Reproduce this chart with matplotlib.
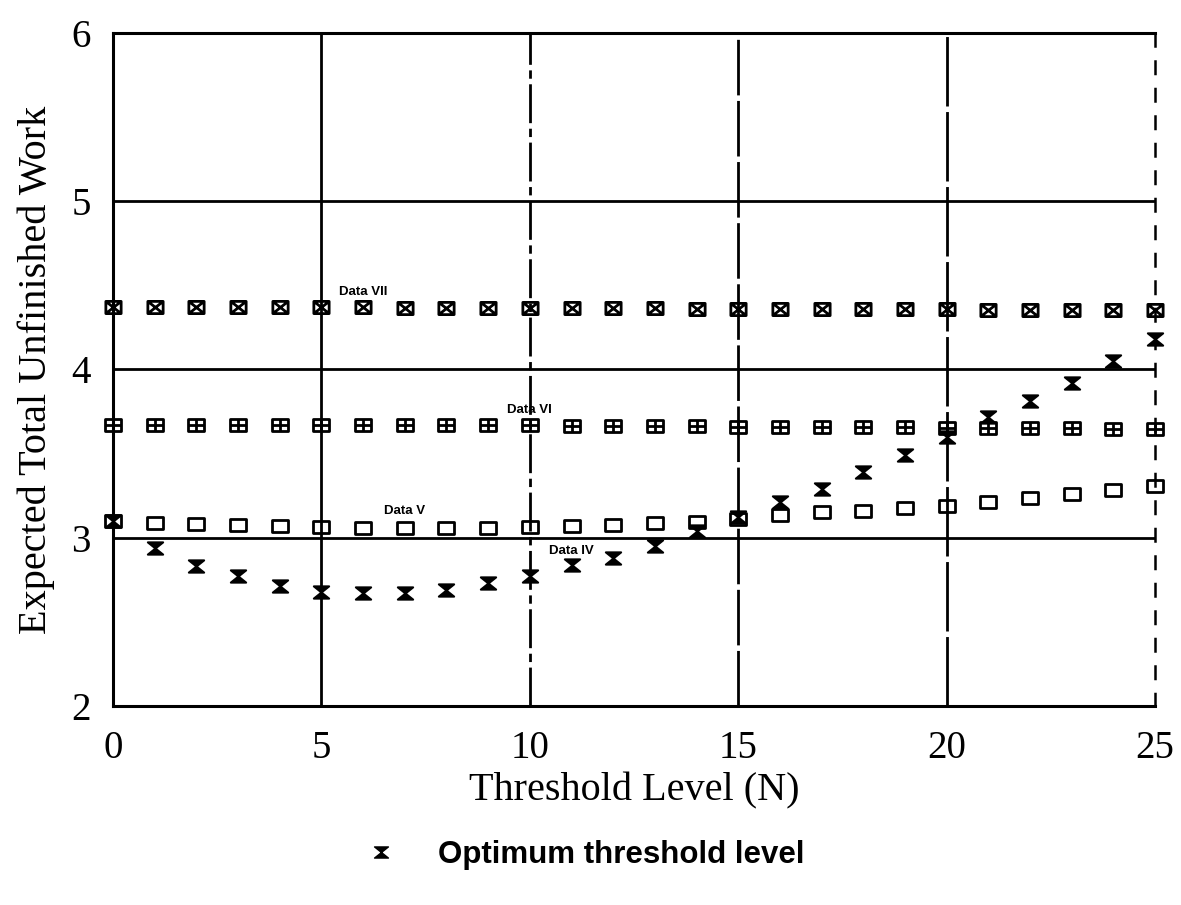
import matplotlib
matplotlib.use('Agg')
import matplotlib.pyplot as plt
from matplotlib.path import Path
from matplotlib.lines import Line2D

# ---- data ----
threshold = list(range(26))
data_vii = [4.37, 4.37, 4.37, 4.37, 4.37, 4.37, 4.37, 4.365, 4.365, 4.365, 4.365, 4.365,
            4.365, 4.365, 4.36, 4.36, 4.36, 4.36, 4.36, 4.36, 4.36, 4.355, 4.355, 4.355,
            4.355, 4.355]
data_vi = [3.67, 3.67, 3.67, 3.67, 3.67, 3.67, 3.67, 3.67, 3.67, 3.67, 3.67, 3.665,
           3.665, 3.665, 3.665, 3.66, 3.66, 3.66, 3.66, 3.66, 3.655, 3.655, 3.65, 3.65,
           3.645, 3.645]
data_v = [3.10, 3.09, 3.08, 3.075, 3.07, 3.065, 3.06, 3.06, 3.055, 3.06, 3.065, 3.07,
          3.075, 3.085, 3.095, 3.11, 3.135, 3.15, 3.16, 3.175, 3.19, 3.215, 3.235, 3.26,
          3.285, 3.305]
data_iv = [3.10, 2.94, 2.83, 2.77, 2.71, 2.68, 2.67, 2.67, 2.69, 2.73, 2.77, 2.84,
           2.88, 2.95, 3.04, 3.12, 3.21, 3.29, 3.39, 3.49, 3.60, 3.72, 3.81, 3.92,
           4.05, 4.18]
series_labels = ["Data VII", "Data VI", "Data V", "Data IV"]
label_pos = [(6.0, 4.46), (10.0, 3.76), (7.0, 3.16), (11.0, 2.92)]
x_ticks = [0, 5, 10, 15, 20, 25]
y_ticks = [2, 3, 4, 5, 6]

# ---- marker shapes ----
M, L, C = Path.MOVETO, Path.LINETO, Path.CLOSEPOLY
h = 0.8
rect_v = [(-1, -h), (1, -h), (1, h), (-1, h), (-1, -h)]
rect_c = [M, L, L, L, C]
box = Path(rect_v, rect_c)
box_x = Path(rect_v + [(-1, -h), (1, h), (-1, h), (1, -h)],
             rect_c + [M, L, M, L])
box_plus = Path(rect_v + [(0, -h), (0, h), (-1, 0), (1, 0)],
                rect_c + [M, L, M, L])
hourglass = Path([(-1, h), (1, h), (-1, -h), (1, -h), (-1, h)], [M, L, L, L, C])

serif = ['Liberation Serif', 'DejaVu Serif']
sans = ['Liberation Sans', 'DejaVu Sans']

fig = plt.figure(figsize=(11.81, 9.05), dpi=100)
ax = fig.add_axes([0.0957, 0.22, 0.8823, 0.7435])

ax.set_xlim(0, 25)
ax.set_ylim(2, 6)

# grid lines
for yv in y_ticks[1:-1]:
    ax.axhline(yv, color='black', lw=2.0, zorder=1)
vstyles = {5: '-', 10: (0, (14, 2, 3, 2)), 15: (0, (20, 2)), 20: (0, (25, 2))}
for xv in x_ticks[1:-1]:
    ax.axvline(xv, color='black', lw=2.0, ls=vstyles[xv], zorder=1)

for s in ['top', 'left', 'bottom']:
    ax.spines[s].set_linewidth(2.2)
ax.spines['right'].set_linewidth(1.8)
ax.spines['right'].set_linestyle((0, (5, 6)))

mk = dict(ls='none', color='black', mfc='none', mew=2.0, zorder=3, clip_on=False)
ax.plot(threshold, data_vii, marker=box_x, ms=11, **mk)
ax.plot(threshold, data_vi, marker=box_plus, ms=11, **mk)
ax.plot(threshold, data_v, marker=box, ms=11, **mk)
ax.plot(threshold, data_iv, ls='none', marker=hourglass, ms=11, color='black',
        mfc='black', mew=1.5, zorder=4, clip_on=False)

for lab, (lx, ly) in zip(series_labels, label_pos):
    ax.text(lx, ly, lab, fontfamily=sans, fontweight='bold', fontsize=9.5,
            ha='center', va='center', zorder=5)

ax.set_xticks(x_ticks)
ax.set_yticks(y_ticks)
ax.tick_params(length=0)
ax.tick_params(axis='x', pad=17)
ax.tick_params(axis='y', pad=16)
for t in ax.get_xticklabels() + ax.get_yticklabels():
    t.set_fontfamily(serif)
    t.set_fontsize(28)

ax.set_xlabel('Threshold Level (N)', fontfamily=serif, fontsize=29, labelpad=4)
ax.set_ylabel('Expected Total Unfinished Work', fontfamily=serif, fontsize=29,
              labelpad=12)

handle = Line2D([], [], ls='none', marker=hourglass, ms=10, color='black', mfc='black')
fig.legend([handle], ['Optimum threshold level'], loc='center',
           bbox_to_anchor=(0.492, 0.055), frameon=False, handletextpad=1.1,
           handlelength=1.5,
           prop={'family': sans, 'weight': 'bold', 'size': 22.5})

fig.savefig('out.png', dpi=100)
